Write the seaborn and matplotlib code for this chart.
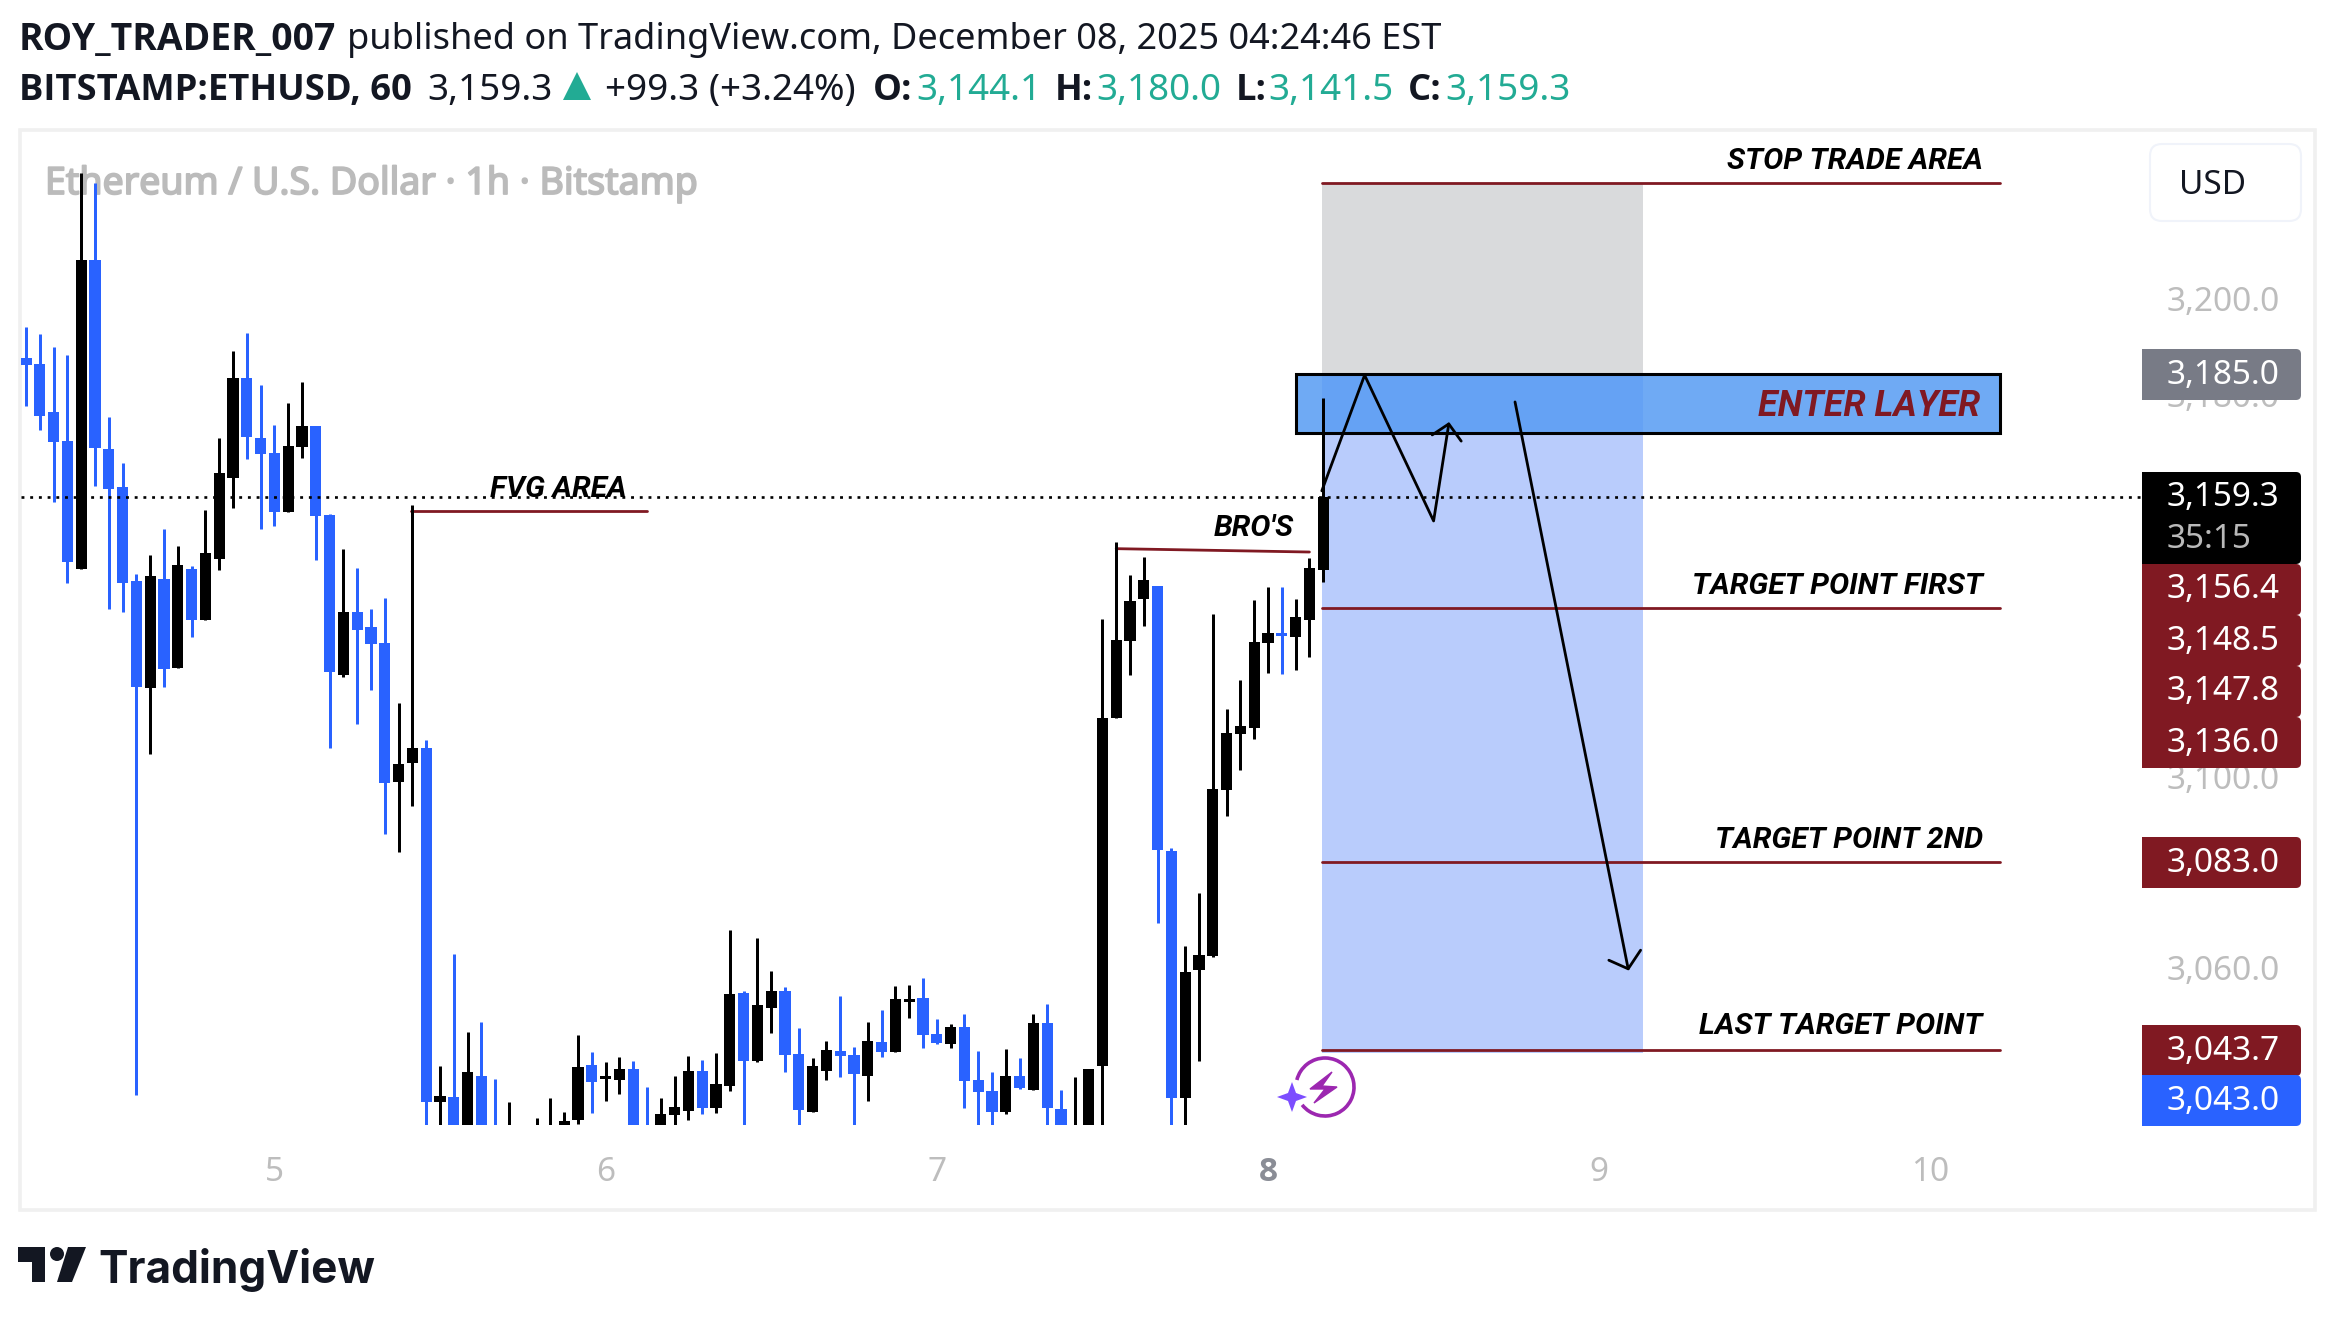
import matplotlib
matplotlib.use("Agg")
import matplotlib.pyplot as plt
import matplotlib.patheffects as pe
from matplotlib.patches import Rectangle, Polygon, FancyBboxPatch, Arc
import numpy as np
import pandas as pd
import seaborn as sns

sns.set_theme(style="white")
plt.rcParams['font.family'] = ['Noto Sans', 'DejaVu Sans']

# ===== chart data =====
bar_open = [3188.4, 3187.2, 3177.0, 3171.1, 3144.3, 3208.9, 3169.3, 3161.4, 3141.7, 3119.4,
            3142.1, 3123.6, 3144.3, 3133.5, 3146.3, 3163.3, 3184.2, 3171.6, 3168.5, 3156.1,
            3169.7, 3174.2, 3155.6, 3122.1, 3135.3, 3132.2, 3128.8, 3099.6, 3103.7, 3106.9,
            3032.8, 3033.8, 3024.0, 3038.2, 3026.0, 3022.0, 3026.0, 3020.0, 3022.0, 3022.0,
            3029.0, 3040.5, 3037.6, 3037.4, 3039.7, 3026.0, 3024.0, 3030.0, 3030.9, 3039.2,
            3031.5, 3036.1, 3055.6, 3041.3, 3052.4, 3056.0, 3042.8, 3030.7, 3039.2, 3043.4,
            3042.6, 3038.2, 3045.3, 3043.2, 3053.7, 3054.5, 3047.0, 3044.9, 3048.4, 3037.4,
            3035.1, 3030.7, 3038.2, 3035.3, 3049.3, 3031.3, 3022.0, 3024.0, 3040.2, 3113.1,
            3129.2, 3137.9, 3140.7, 3085.2, 3033.6, 3060.4, 3063.3, 3098.0, 3109.7, 3110.9,
            3128.8, 3130.8, 3130.0, 3133.6, 3144.1]
bar_high = [3194.9, 3193.4, 3190.6, 3189.1, 3227.0, 3225.1, 3176.0, 3166.5, 3143.1, 3147.1,
            3152.6, 3149.0, 3144.8, 3156.5, 3171.6, 3189.9, 3193.7, 3182.8, 3174.4, 3179.0,
            3183.3, 3174.2, 3155.7, 3148.5, 3144.4, 3135.8, 3138.2, 3116.2, 3157.6, 3108.5,
            3040.3, 3063.7, 3047.4, 3049.5, 3037.6, 3032.8, 3027.0, 3029.4, 3033.6, 3030.7,
            3046.8, 3043.2, 3041.1, 3042.2, 3041.3, 3035.9, 3033.6, 3038.2, 3042.4, 3041.5,
            3043.0, 3068.7, 3056.0, 3067.1, 3060.2, 3056.8, 3048.2, 3042.0, 3045.5, 3054.9,
            3044.3, 3049.5, 3052.0, 3057.0, 3057.2, 3058.7, 3050.1, 3049.1, 3051.2, 3043.4,
            3039.0, 3043.8, 3042.0, 3051.2, 3053.3, 3035.3, 3038.0, 3039.7, 3133.7, 3149.9,
            3143.0, 3146.7, 3140.7, 3085.8, 3065.3, 3076.4, 3134.9, 3114.9, 3121.0, 3137.8,
            3140.5, 3140.5, 3137.9, 3146.6, 3180.0]
bar_low = [3178.3, 3173.3, 3158.2, 3141.3, 3144.3, 3161.6, 3135.8, 3135.2, 3034.3, 3105.6,
           3119.5, 3123.6, 3130.0, 3133.5, 3144.1, 3157.1, 3167.3, 3152.7, 3153.3, 3156.1,
           3167.4, 3146.2, 3106.9, 3121.6, 3111.8, 3119.0, 3088.8, 3085.1, 3094.6, 3020.0,
           3020.0, 3020.0, 3020.0, 3020.0, 3020.0, 3020.0, 3020.0, 3018.0, 3018.0, 3020.0,
           3028.2, 3030.5, 3033.0, 3034.4, 3020.0, 3020.0, 3020.0, 3020.0, 3029.0, 3030.2,
           3030.5, 3035.1, 3020.0, 3041.1, 3047.2, 3039.0, 3020.0, 3030.7, 3037.4, 3038.0,
           3020.0, 3033.0, 3042.2, 3043.2, 3050.3, 3044.1, 3044.9, 3044.1, 3031.5, 3020.0,
           3020.0, 3030.2, 3035.5, 3035.3, 3020.0, 3020.0, 3020.0, 3020.0, 3020.0, 3113.1,
           3122.0, 3132.3, 3070.2, 3020.0, 3020.0, 3041.4, 3063.1, 3092.6, 3102.2, 3108.6,
           3122.5, 3122.3, 3123.2, 3125.8, 3141.5]
bar_close = [3186.9, 3176.3, 3170.8, 3145.8, 3208.9, 3169.6, 3161.0, 3141.3, 3119.5, 3142.8,
             3123.3, 3145.1, 3133.5, 3147.6, 3164.3, 3184.2, 3171.9, 3168.4, 3156.1, 3170.0,
             3174.2, 3155.3, 3122.6, 3135.3, 3131.5, 3128.5, 3099.5, 3103.5, 3106.9, 3032.7,
             3034.0, 3024.0, 3039.0, 3024.0, 3022.0, 3026.0, 3022.0, 3025.0, 3026.0, 3028.8,
             3040.1, 3036.9, 3038.2, 3039.7, 3024.0, 3022.0, 3030.2, 3031.7, 3039.2, 3031.5,
             3036.5, 3055.3, 3041.3, 3053.0, 3056.0, 3042.6, 3031.1, 3040.3, 3043.6, 3042.4,
             3038.6, 3045.5, 3043.2, 3054.3, 3054.3, 3046.8, 3045.1, 3048.4, 3037.1, 3034.8,
             3030.7, 3038.2, 3035.7, 3049.3, 3031.5, 3024.0, 3026.0, 3039.7, 3113.1, 3129.4,
             3137.6, 3141.9, 3085.5, 3033.6, 3059.9, 3063.5, 3098.2, 3109.9, 3111.3, 3129.0,
             3130.8, 3130.2, 3134.2, 3144.4, 3159.3]

day_bars = [18, 42, 66, 90, 114, 138]
day_labels = ["5", "6", "7", "8", "9", "10"]
price_ticks = [3200, 3180, 3100, 3060]

stop_price = 3225.0
entry_price = 3185.0
box_bottom = 3043.0
enter_low = 3172.7
target_first = 3136.0
target_second = 3083.0
target_last = 3043.7
fvg_price = 3156.4
bros_start, bros_end = 3148.5, 3147.8
last_price = 3159.3

zig_bars = [93.9, 97.0, 102.0, 103.1]
zig_prices = [3160.6, 3184.8, 3154.3, 3174.6]
zig_head_bars = [101.9, 103.1, 104.0]
zig_head_prices = [3172.3, 3174.6, 3171.0]
drop_bars = [107.9, 116.1]
drop_prices = [3179.2, 3060.6]
drop_head_bars = [114.7, 116.1, 117.0]
drop_head_prices = [3062.4, 3060.6, 3064.5]

tag_texts = ["3,185.0", "3,156.4", "3,148.5", "3,147.8", "3,136.0", "3,083.0", "3,043.7", "3,043.0"]
tag_tops = [349, 564, 615, 666, 717, 837, 1025, 1075]
tag_colors = ["#787b86", "#801922", "#801922", "#801922", "#801922", "#801922", "#801922", "#2962ff"]

# ===== layout =====
W, H = 2334, 1320
PX_PER_BAR = 13.8
PX_PER_USD = 4.78
BAR0_X = 26
Y_3200 = 302.5
L, R, T, B = 21, 2142, 131, 1125
BLUE = "#2962ff"
MAROON = "#801922"
INK = "#131722"
GREY_TXT = "#bdbdbd"
TEAL = "#22ab94"
LABEL_FONT = ['Roboto', 'DejaVu Sans']
BOLD_FONT = ['Open Sans', 'DejaVu Sans']

fig = plt.figure(figsize=(W / 100, H / 100), dpi=100, facecolor="white")

back = fig.add_axes([0, 0, 1, 1], zorder=0)
back.set_xlim(0, W)
back.set_ylim(H, 0)
back.axis("off")
back.add_patch(Rectangle((19.5, 130), 2295, 1080, fill=False, ec="#f0f0f0", lw=2.6))
mark = back.text(45, 184, "Ethereum / U.S. Dollar · 1h · Bitstamp", fontsize=27, color="#bbbbbb",
                 va="center", ha="left")
mark.set_path_effects([pe.withStroke(linewidth=1.3, foreground="#bbbbbb")])

# ===== candles =====
ax = fig.add_axes([L / W, 1 - B / H, (R - L) / W, (B - T) / H], zorder=1)
ax.patch.set_alpha(0)

df = pd.DataFrame({"bar": np.arange(len(bar_open)), "open": bar_open, "high": bar_high,
                   "low": bar_low, "close": bar_close})
df["up"] = df["close"] >= df["open"]
df["bottom"] = df[["open", "close"]].min(axis=1)
df["body"] = (df["close"] - df["open"]).abs()

ax.add_patch(Rectangle((93.9, entry_price), 23.3, stop_price - entry_price, fc="#d9dadc", ec="none", zorder=0.5))
ax.add_patch(Rectangle((93.9, box_bottom), 23.3, entry_price - box_bottom, fc="#b9ccfc", ec="none", zorder=0.5))

for is_up, colour in [(True, "black"), (False, BLUE)]:
    part = df[df["up"] == is_up]
    ax.vlines(part["bar"], part["low"], part["high"], colors=colour, lw=2.16, zorder=5)
    sns.barplot(data=part, x="bar", y="body", bottom=part["bottom"].values, native_scale=True,
                color=colour, saturation=1, width=0.8, errorbar=None, linewidth=0,
                edgecolor="none", zorder=5, ax=ax)

# ===== drawings =====
for y0, y1, x0, x1 in [(stop_price, stop_price, 93.9, 143.05),
                       (target_first, target_first, 93.9, 143.05),
                       (target_second, target_second, 93.9, 143.05),
                       (target_last, target_last, 93.9, 143.05),
                       (fvg_price, fvg_price, 27.9, 45.0),
                       (bros_start, bros_end, 79.0, 93.0)]:
    ax.plot([x0, x1], [y0, y1], color=MAROON, lw=2.0, solid_capstyle="round", zorder=4)

ax.add_patch(Rectangle((92.0, enter_low), 51.05, entry_price - enter_low, fc=(86 / 255, 155 / 255, 243 / 255, 0.85),
                       ec="black", lw=2.2, zorder=3))

ax.axhline(last_price, color="black", lw=1.9, linestyle=(0, (1.1, 2.2)), zorder=6)

for xs, ys in [(zig_bars, zig_prices), (zig_head_bars, zig_head_prices),
               (drop_bars, drop_prices), (drop_head_bars, drop_head_prices)]:
    line = pd.DataFrame({"bar": xs, "price": ys})
    sns.lineplot(data=line, x="bar", y="price", sort=False, estimator=None, color="black",
                 lw=2.0, zorder=7, ax=ax)

ax.set_xlim((L - BAR0_X) / PX_PER_BAR, (R - BAR0_X) / PX_PER_BAR)
ax.set_ylim(3200 - (B - Y_3200) / PX_PER_USD, 3200 + (Y_3200 - T) / PX_PER_USD)
ax.set_xlabel("")
ax.set_ylabel("")
sns.despine(ax=ax, left=True, bottom=True)

ax.set_xticks(day_bars)
ax.set_xticklabels(day_labels, fontsize=24, color=GREY_TXT)
ax.get_xticklabels()[3].set(color="#8a8d96", fontweight="bold", family=BOLD_FONT)
ax.yaxis.tick_right()
ax.set_yticks(price_ticks)
ax.set_yticklabels([f"{p:,.1f}" for p in price_ticks], fontsize=24, color=GREY_TXT, va="center")
ax.tick_params(axis="x", length=0, pad=22)
ax.tick_params(axis="y", length=0, pad=18)

# text on the drawings, right edge at about 1983 px
label_kw = dict(family=LABEL_FONT, fontweight="bold", fontstyle="italic", color="black",
                fontsize=21.7, ha="right", va="center", zorder=8)
ax.text(141.8, stop_price + 4.6, "STOP TRADE AREA", **label_kw)
ax.text(141.8, target_first + 4.6, "TARGET POINT FIRST", **label_kw)
ax.text(141.8, target_second + 4.6, "TARGET POINT 2ND", **label_kw)
ax.text(141.8, target_last + 5.0, "LAST TARGET POINT", **label_kw)
ax.text(43.5, fvg_price + 4.6, "FVG AREA", **label_kw)
ax.text(91.9, bros_start + 4.4, "BRO'S", **label_kw)
ax.text(141.6, 3178.3, "ENTER LAYER", family=LABEL_FONT, fontweight="bold", fontstyle="italic",
        color=MAROON, fontsize=25.8, ha="right", va="center", zorder=8)

# ===== header, price tags, logo =====
top = fig.add_axes([0, 0, 1, 1], zorder=3)
top.set_xlim(0, W)
top.set_ylim(H, 0)
top.axis("off")
top.patch.set_alpha(0)

top.text(19, 40, "ROY_TRADER_007", fontsize=26.8, fontweight="bold", family=BOLD_FONT, color=INK, va="center")
top.text(347, 40, "published on TradingView.com, December 08, 2025 04:24:46 EST", fontsize=26, color=INK, va="center")
for txt, x, weight, colour in [("BITSTAMP:ETHUSD, 60", 19, "bold", INK), ("3,159.3", 427, "normal", INK),
                               ("+99.3 (+3.24%)", 605, "normal", INK), ("O:", 873, "bold", INK),
                               ("3,144.1", 916, "normal", TEAL), ("H:", 1055, "bold", INK),
                               ("3,180.0", 1096, "normal", TEAL), ("L:", 1236, "bold", INK),
                               ("3,141.5", 1268, "normal", TEAL), ("C:", 1408, "bold", INK),
                               ("3,159.3", 1445, "normal", TEAL)]:
    fam = BOLD_FONT if weight == "bold" else ['Noto Sans', 'DejaVu Sans']
    size = 26.2 if weight == "bold" else 26.5
    top.text(x, 91, txt, fontsize=size, fontweight=weight, family=fam, color=colour, va="center")
top.add_patch(Polygon([(563, 100), (591, 100), (577, 72)], fc=TEAL, ec="none"))

# USD button
top.add_patch(FancyBboxPatch((2156, 150), 139, 65, boxstyle="round,pad=6,rounding_size=12", fc="white",
                             ec="#f0f3fa", lw=1.5))
top.text(2212, 186, "USD", fontsize=24, color=INK, ha="center", va="center")


def price_tag(y0, y1, colour):
    top.add_patch(FancyBboxPatch((2147, y0 + 5), 149, y1 - y0 - 10, boxstyle="round,pad=5,rounding_size=5",
                                 fc=colour, ec="none", zorder=5))
    top.add_patch(Rectangle((2142, y0), 30, y1 - y0, fc=colour, ec="none", zorder=5))


for txt, y0, colour in zip(tag_texts, tag_tops, tag_colors):
    price_tag(y0, y0 + 51, colour)
    top.text(2167, y0 + 26, txt, fontsize=24, color="white", va="center", zorder=6)
price_tag(472, 564, "black")
top.text(2167, 497, "3,159.3", fontsize=24, color="white", va="center", zorder=6)
top.text(2167, 540, "35:15", fontsize=24, color="#b9b9b9", va="center", zorder=6)

# TradingView mark
top.add_patch(Polygon([(18, 1247), (45, 1247), (45, 1282), (32, 1282), (32, 1262), (18, 1262)], fc=INK, ec="none"))
top.add_patch(plt.Circle((57, 1254), 7, fc=INK, ec="none"))
top.add_patch(Polygon([(68, 1247), (86, 1247), (72, 1282), (57, 1282)], fc=INK, ec="none"))
top.text(98, 1270, "TradingView", family=['Inter', 'DejaVu Sans'], fontsize=31.8, fontweight="bold", color=INK, va="center")

# purple snapshot badge
top.add_patch(Arc((1325, 1087), 58, 58, theta1=194, theta2=502, ec="#9c27b0", lw=2.6))
top.add_patch(Polygon([(1332, 1072), (1310, 1089), (1325, 1089), (1314, 1103), (1337, 1087), (1322, 1086)],
                      fc="#9c27b0", ec="#9c27b0", lw=1))
top.add_patch(Polygon([(1292, 1082), (1296, 1093), (1307, 1097), (1296, 1101), (1292, 1112), (1288, 1101),
                       (1277, 1097), (1288, 1093)], fc="#7c4dff", ec="none"))

fig.savefig("out.png", dpi=100)
